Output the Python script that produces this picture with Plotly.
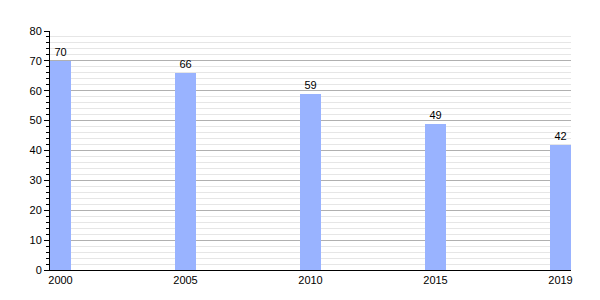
import plotly.graph_objects as go

years = ["2000", "2005", "2010", "2015", "2019"]
values = [70, 66, 59, 49, 42]

fig = go.Figure()
fig.add_trace(go.Bar(
    x=years, y=values,
    width=0.168,
    marker=dict(color="#99b3ff", line=dict(width=0)),
    text=[str(v) for v in values],
    textposition="outside",
    textfont=dict(size=11, color="black", family="Liberation Sans, Arial"),
    cliponaxis=False,
))

fig.update_layout(
    width=600, height=300,
    margin=dict(l=50, r=29, t=31, b=30),
    plot_bgcolor="white", paper_bgcolor="white",
    font=dict(family="Liberation Sans, Arial", size=11, color="black"),
    showlegend=False,
    bargap=0,
)
fig.update_xaxes(
    type="category",
    range=[-0.084, 4.084],
    showline=True, linecolor="black", linewidth=1,
    showgrid=False, ticks="", ticklen=0,
    tickfont=dict(size=11),
)
fig.update_yaxes(
    range=[0, 80],
    dtick=10,
    showline=True, linecolor="black", linewidth=1,
    ticks="outside", ticklen=5, tickcolor="black", tickwidth=1,
    showgrid=True, gridcolor="#b0b0b0", gridwidth=1,
    zeroline=False,
    tickfont=dict(size=11),
    minor=dict(dtick=2, ticks="outside", ticklen=3, tickcolor="black",
               showgrid=True, gridcolor="#e6e6e6", gridwidth=1),
)

fig.write_html("out.html")
